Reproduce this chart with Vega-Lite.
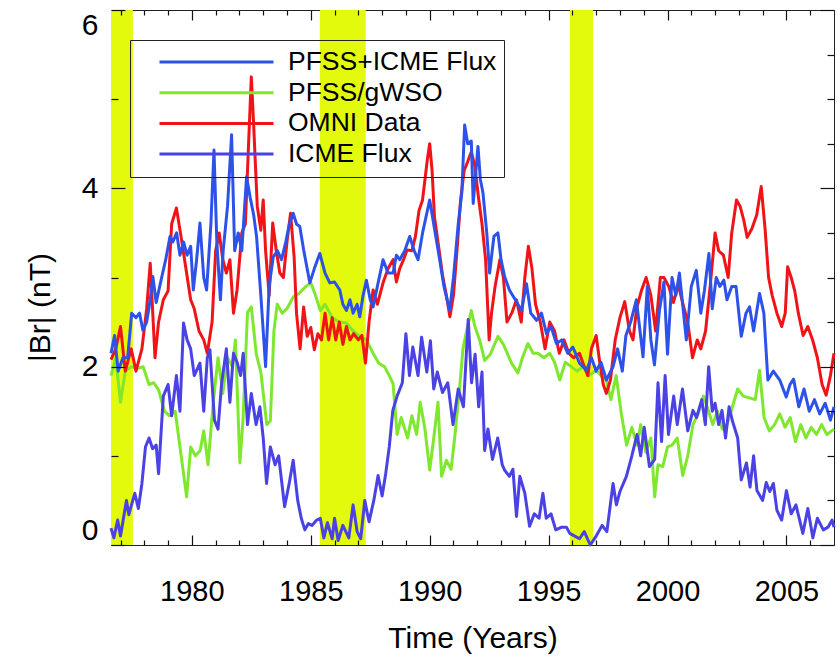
{
"$schema": "https://vega.github.io/schema/vega-lite/v6.json",
"autosize": {"type": "none"},
"width": 723,
"height": 535,
"padding": {"left": 111, "top": 10, "right": 3, "bottom": 112},
"config": {
  "view": {"stroke": "#222", "strokeWidth": 1},
  "font": "Liberation Sans",
  "axis": {"labelFont": "Liberation Sans", "titleFont": "Liberation Sans", "labelColor": "black", "titleColor": "black", "tickColor": "#111", "titleFontWeight": "normal", "grid": false, "domain": false, "tickWidth": 1.2, "zindex": 2}
},
"datasets": {
  "bands": [
    {"start": 1976.6, "end": 1977.52},
    {"start": 1985.38, "end": 1987.31},
    {"start": 1995.9, "end": 1996.87}
  ],
  "series": [
{"series":"PFSS/gWSO","year":1976.6,"value":1.9},
{"series":"PFSS/gWSO","year":1976.8,"value":2.1},
{"series":"PFSS/gWSO","year":1977.0,"value":1.6},
{"series":"PFSS/gWSO","year":1977.2,"value":1.95},
{"series":"PFSS/gWSO","year":1977.45,"value":2.0},
{"series":"PFSS/gWSO","year":1977.7,"value":1.98},
{"series":"PFSS/gWSO","year":1977.95,"value":2.0},
{"series":"PFSS/gWSO","year":1978.2,"value":1.8},
{"series":"PFSS/gWSO","year":1978.4,"value":1.82},
{"series":"PFSS/gWSO","year":1978.6,"value":1.74},
{"series":"PFSS/gWSO","year":1978.85,"value":1.5},
{"series":"PFSS/gWSO","year":1979.05,"value":1.45},
{"series":"PFSS/gWSO","year":1979.3,"value":1.5},
{"series":"PFSS/gWSO","year":1979.55,"value":1.0},
{"series":"PFSS/gWSO","year":1979.78,"value":0.54},
{"series":"PFSS/gWSO","year":1979.95,"value":1.1},
{"series":"PFSS/gWSO","year":1980.15,"value":1.0},
{"series":"PFSS/gWSO","year":1980.35,"value":1.06},
{"series":"PFSS/gWSO","year":1980.5,"value":1.28},
{"series":"PFSS/gWSO","year":1980.68,"value":0.9},
{"series":"PFSS/gWSO","year":1980.9,"value":1.6},
{"series":"PFSS/gWSO","year":1981.1,"value":2.1},
{"series":"PFSS/gWSO","year":1981.3,"value":1.7},
{"series":"PFSS/gWSO","year":1981.5,"value":2.1},
{"series":"PFSS/gWSO","year":1981.7,"value":2.0},
{"series":"PFSS/gWSO","year":1981.83,"value":2.3},
{"series":"PFSS/gWSO","year":1982.02,"value":0.92},
{"series":"PFSS/gWSO","year":1982.15,"value":1.4},
{"series":"PFSS/gWSO","year":1982.34,"value":2.61},
{"series":"PFSS/gWSO","year":1982.5,"value":2.67},
{"series":"PFSS/gWSO","year":1982.71,"value":2.14},
{"series":"PFSS/gWSO","year":1982.9,"value":1.94},
{"series":"PFSS/gWSO","year":1983.15,"value":1.35},
{"series":"PFSS/gWSO","year":1983.3,"value":1.39},
{"series":"PFSS/gWSO","year":1983.45,"value":2.4},
{"series":"PFSS/gWSO","year":1983.59,"value":2.7},
{"series":"PFSS/gWSO","year":1983.8,"value":2.6},
{"series":"PFSS/gWSO","year":1984.0,"value":2.65},
{"series":"PFSS/gWSO","year":1984.26,"value":2.78},
{"series":"PFSS/gWSO","year":1984.5,"value":2.82},
{"series":"PFSS/gWSO","year":1984.8,"value":2.9},
{"series":"PFSS/gWSO","year":1985.0,"value":2.94},
{"series":"PFSS/gWSO","year":1985.2,"value":2.8},
{"series":"PFSS/gWSO","year":1985.4,"value":2.63},
{"series":"PFSS/gWSO","year":1985.6,"value":2.7},
{"series":"PFSS/gWSO","year":1985.9,"value":2.55},
{"series":"PFSS/gWSO","year":1986.2,"value":2.5},
{"series":"PFSS/gWSO","year":1986.5,"value":2.49},
{"series":"PFSS/gWSO","year":1986.78,"value":2.4},
{"series":"PFSS/gWSO","year":1987.06,"value":2.34},
{"series":"PFSS/gWSO","year":1987.34,"value":2.3},
{"series":"PFSS/gWSO","year":1987.62,"value":2.15},
{"series":"PFSS/gWSO","year":1987.85,"value":2.04},
{"series":"PFSS/gWSO","year":1988.1,"value":2.0},
{"series":"PFSS/gWSO","year":1988.3,"value":1.9},
{"series":"PFSS/gWSO","year":1988.46,"value":1.81},
{"series":"PFSS/gWSO","year":1988.63,"value":1.24},
{"series":"PFSS/gWSO","year":1988.8,"value":1.43},
{"series":"PFSS/gWSO","year":1989.07,"value":1.2},
{"series":"PFSS/gWSO","year":1989.25,"value":1.45},
{"series":"PFSS/gWSO","year":1989.45,"value":1.24},
{"series":"PFSS/gWSO","year":1989.6,"value":1.6},
{"series":"PFSS/gWSO","year":1989.8,"value":1.3},
{"series":"PFSS/gWSO","year":1990.0,"value":0.84},
{"series":"PFSS/gWSO","year":1990.17,"value":1.2},
{"series":"PFSS/gWSO","year":1990.35,"value":1.6},
{"series":"PFSS/gWSO","year":1990.5,"value":0.77},
{"series":"PFSS/gWSO","year":1990.7,"value":0.95},
{"series":"PFSS/gWSO","year":1990.9,"value":0.85},
{"series":"PFSS/gWSO","year":1991.05,"value":1.2},
{"series":"PFSS/gWSO","year":1991.25,"value":1.74},
{"series":"PFSS/gWSO","year":1991.4,"value":2.2},
{"series":"PFSS/gWSO","year":1991.55,"value":2.4},
{"series":"PFSS/gWSO","year":1991.75,"value":2.63},
{"series":"PFSS/gWSO","year":1991.9,"value":2.45},
{"series":"PFSS/gWSO","year":1992.1,"value":2.3},
{"series":"PFSS/gWSO","year":1992.31,"value":2.07},
{"series":"PFSS/gWSO","year":1992.55,"value":2.14},
{"series":"PFSS/gWSO","year":1992.87,"value":2.34},
{"series":"PFSS/gWSO","year":1993.1,"value":2.25},
{"series":"PFSS/gWSO","year":1993.44,"value":2.04},
{"series":"PFSS/gWSO","year":1993.71,"value":1.93},
{"series":"PFSS/gWSO","year":1993.9,"value":2.1},
{"series":"PFSS/gWSO","year":1994.13,"value":2.26},
{"series":"PFSS/gWSO","year":1994.35,"value":2.15},
{"series":"PFSS/gWSO","year":1994.55,"value":2.15},
{"series":"PFSS/gWSO","year":1994.8,"value":2.1},
{"series":"PFSS/gWSO","year":1995.05,"value":2.15},
{"series":"PFSS/gWSO","year":1995.25,"value":2.05},
{"series":"PFSS/gWSO","year":1995.47,"value":1.85},
{"series":"PFSS/gWSO","year":1995.7,"value":2.05},
{"series":"PFSS/gWSO","year":1995.95,"value":2.0},
{"series":"PFSS/gWSO","year":1996.2,"value":1.95},
{"series":"PFSS/gWSO","year":1996.45,"value":2.0},
{"series":"PFSS/gWSO","year":1996.7,"value":1.9},
{"series":"PFSS/gWSO","year":1997.0,"value":1.96},
{"series":"PFSS/gWSO","year":1997.2,"value":1.9},
{"series":"PFSS/gWSO","year":1997.43,"value":1.85},
{"series":"PFSS/gWSO","year":1997.62,"value":1.63},
{"series":"PFSS/gWSO","year":1997.84,"value":1.9},
{"series":"PFSS/gWSO","year":1998.06,"value":1.47},
{"series":"PFSS/gWSO","year":1998.28,"value":1.12},
{"series":"PFSS/gWSO","year":1998.5,"value":1.32},
{"series":"PFSS/gWSO","year":1998.72,"value":1.12},
{"series":"PFSS/gWSO","year":1998.87,"value":1.35},
{"series":"PFSS/gWSO","year":1999.09,"value":1.04},
{"series":"PFSS/gWSO","year":1999.3,"value":1.2},
{"series":"PFSS/gWSO","year":1999.46,"value":0.54},
{"series":"PFSS/gWSO","year":1999.6,"value":0.9},
{"series":"PFSS/gWSO","year":1999.8,"value":0.88},
{"series":"PFSS/gWSO","year":2000.0,"value":1.1},
{"series":"PFSS/gWSO","year":2000.19,"value":1.12},
{"series":"PFSS/gWSO","year":2000.41,"value":1.2},
{"series":"PFSS/gWSO","year":2000.64,"value":0.78},
{"series":"PFSS/gWSO","year":2000.85,"value":1.0},
{"series":"PFSS/gWSO","year":2001.07,"value":1.35},
{"series":"PFSS/gWSO","year":2001.29,"value":1.47},
{"series":"PFSS/gWSO","year":2001.51,"value":1.67},
{"series":"PFSS/gWSO","year":2001.73,"value":1.5},
{"series":"PFSS/gWSO","year":2001.9,"value":1.35},
{"series":"PFSS/gWSO","year":2002.1,"value":1.5},
{"series":"PFSS/gWSO","year":2002.3,"value":1.3},
{"series":"PFSS/gWSO","year":2002.5,"value":1.35},
{"series":"PFSS/gWSO","year":2002.73,"value":1.55},
{"series":"PFSS/gWSO","year":2002.95,"value":1.75},
{"series":"PFSS/gWSO","year":2003.18,"value":1.67},
{"series":"PFSS/gWSO","year":2003.45,"value":1.65},
{"series":"PFSS/gWSO","year":2003.69,"value":1.63},
{"series":"PFSS/gWSO","year":2003.87,"value":1.96},
{"series":"PFSS/gWSO","year":2004.06,"value":1.43},
{"series":"PFSS/gWSO","year":2004.28,"value":1.28},
{"series":"PFSS/gWSO","year":2004.5,"value":1.35},
{"series":"PFSS/gWSO","year":2004.72,"value":1.47},
{"series":"PFSS/gWSO","year":2004.94,"value":1.32},
{"series":"PFSS/gWSO","year":2005.16,"value":1.43},
{"series":"PFSS/gWSO","year":2005.38,"value":1.16},
{"series":"PFSS/gWSO","year":2005.6,"value":1.35},
{"series":"PFSS/gWSO","year":2005.82,"value":1.2},
{"series":"PFSS/gWSO","year":2006.04,"value":1.32},
{"series":"PFSS/gWSO","year":2006.26,"value":1.24},
{"series":"PFSS/gWSO","year":2006.48,"value":1.35},
{"series":"PFSS/gWSO","year":2006.7,"value":1.24},
{"series":"PFSS/gWSO","year":2007.0,"value":1.3},
{"series":"OMNI Data","year":1976.6,"value":2.08},
{"series":"OMNI Data","year":1976.8,"value":2.2},
{"series":"OMNI Data","year":1977.0,"value":2.45},
{"series":"OMNI Data","year":1977.2,"value":1.95},
{"series":"OMNI Data","year":1977.45,"value":2.2},
{"series":"OMNI Data","year":1977.65,"value":1.95},
{"series":"OMNI Data","year":1977.9,"value":2.2},
{"series":"OMNI Data","year":1978.1,"value":2.65},
{"series":"OMNI Data","year":1978.25,"value":3.16},
{"series":"OMNI Data","year":1978.45,"value":2.1},
{"series":"OMNI Data","year":1978.6,"value":2.5},
{"series":"OMNI Data","year":1978.8,"value":2.75},
{"series":"OMNI Data","year":1979.0,"value":2.85},
{"series":"OMNI Data","year":1979.15,"value":3.6},
{"series":"OMNI Data","year":1979.35,"value":3.78},
{"series":"OMNI Data","year":1979.55,"value":3.45},
{"series":"OMNI Data","year":1979.75,"value":3.1},
{"series":"OMNI Data","year":1979.95,"value":2.75},
{"series":"OMNI Data","year":1980.1,"value":2.65},
{"series":"OMNI Data","year":1980.3,"value":2.4},
{"series":"OMNI Data","year":1980.5,"value":2.3},
{"series":"OMNI Data","year":1980.65,"value":2.15},
{"series":"OMNI Data","year":1980.85,"value":2.5},
{"series":"OMNI Data","year":1981.0,"value":3.3},
{"series":"OMNI Data","year":1981.15,"value":3.5},
{"series":"OMNI Data","year":1981.3,"value":3.2},
{"series":"OMNI Data","year":1981.45,"value":3.05},
{"series":"OMNI Data","year":1981.6,"value":3.2},
{"series":"OMNI Data","year":1981.75,"value":2.6},
{"series":"OMNI Data","year":1981.9,"value":2.86},
{"series":"OMNI Data","year":1982.1,"value":3.5},
{"series":"OMNI Data","year":1982.25,"value":3.6},
{"series":"OMNI Data","year":1982.4,"value":4.6},
{"series":"OMNI Data","year":1982.5,"value":5.25},
{"series":"OMNI Data","year":1982.6,"value":4.7},
{"series":"OMNI Data","year":1982.75,"value":3.8},
{"series":"OMNI Data","year":1982.9,"value":3.53},
{"series":"OMNI Data","year":1983.0,"value":3.87},
{"series":"OMNI Data","year":1983.1,"value":3.3},
{"series":"OMNI Data","year":1983.25,"value":2.8},
{"series":"OMNI Data","year":1983.4,"value":3.61},
{"series":"OMNI Data","year":1983.55,"value":3.3},
{"series":"OMNI Data","year":1983.7,"value":3.05},
{"series":"OMNI Data","year":1983.85,"value":3.0},
{"series":"OMNI Data","year":1984.0,"value":3.4},
{"series":"OMNI Data","year":1984.15,"value":3.72},
{"series":"OMNI Data","year":1984.3,"value":3.23},
{"series":"OMNI Data","year":1984.4,"value":2.6},
{"series":"OMNI Data","year":1984.55,"value":2.2},
{"series":"OMNI Data","year":1984.7,"value":2.67},
{"series":"OMNI Data","year":1984.85,"value":2.34},
{"series":"OMNI Data","year":1985.0,"value":2.44},
{"series":"OMNI Data","year":1985.15,"value":2.19},
{"series":"OMNI Data","year":1985.3,"value":2.37},
{"series":"OMNI Data","year":1985.45,"value":2.3},
{"series":"OMNI Data","year":1985.6,"value":2.6},
{"series":"OMNI Data","year":1985.75,"value":2.3},
{"series":"OMNI Data","year":1985.9,"value":2.55},
{"series":"OMNI Data","year":1986.05,"value":2.3},
{"series":"OMNI Data","year":1986.2,"value":2.5},
{"series":"OMNI Data","year":1986.35,"value":2.25},
{"series":"OMNI Data","year":1986.5,"value":2.45},
{"series":"OMNI Data","year":1986.65,"value":2.3},
{"series":"OMNI Data","year":1986.8,"value":2.37},
{"series":"OMNI Data","year":1987.0,"value":2.3},
{"series":"OMNI Data","year":1987.15,"value":2.35},
{"series":"OMNI Data","year":1987.3,"value":2.04},
{"series":"OMNI Data","year":1987.45,"value":2.5},
{"series":"OMNI Data","year":1987.62,"value":2.86},
{"series":"OMNI Data","year":1987.8,"value":2.7},
{"series":"OMNI Data","year":1988.04,"value":2.94},
{"series":"OMNI Data","year":1988.25,"value":3.1},
{"series":"OMNI Data","year":1988.46,"value":3.2},
{"series":"OMNI Data","year":1988.6,"value":2.95},
{"series":"OMNI Data","year":1988.74,"value":3.1},
{"series":"OMNI Data","year":1988.9,"value":3.2},
{"series":"OMNI Data","year":1989.05,"value":3.31},
{"series":"OMNI Data","year":1989.25,"value":3.3},
{"series":"OMNI Data","year":1989.4,"value":3.46},
{"series":"OMNI Data","year":1989.55,"value":3.75},
{"series":"OMNI Data","year":1989.7,"value":3.87},
{"series":"OMNI Data","year":1989.9,"value":4.32},
{"series":"OMNI Data","year":1990.0,"value":4.5},
{"series":"OMNI Data","year":1990.1,"value":4.2},
{"series":"OMNI Data","year":1990.2,"value":3.68},
{"series":"OMNI Data","year":1990.4,"value":3.3},
{"series":"OMNI Data","year":1990.55,"value":3.01},
{"series":"OMNI Data","year":1990.7,"value":2.8},
{"series":"OMNI Data","year":1990.85,"value":2.56},
{"series":"OMNI Data","year":1991.0,"value":2.8},
{"series":"OMNI Data","year":1991.15,"value":3.31},
{"series":"OMNI Data","year":1991.3,"value":3.87},
{"series":"OMNI Data","year":1991.45,"value":4.2},
{"series":"OMNI Data","year":1991.6,"value":4.3},
{"series":"OMNI Data","year":1991.75,"value":4.41},
{"series":"OMNI Data","year":1991.9,"value":4.25},
{"series":"OMNI Data","year":1992.05,"value":3.9},
{"series":"OMNI Data","year":1992.2,"value":3.6},
{"series":"OMNI Data","year":1992.35,"value":3.2},
{"series":"OMNI Data","year":1992.5,"value":2.3},
{"series":"OMNI Data","year":1992.6,"value":2.6},
{"series":"OMNI Data","year":1992.75,"value":2.9},
{"series":"OMNI Data","year":1992.95,"value":3.2},
{"series":"OMNI Data","year":1993.1,"value":3.0},
{"series":"OMNI Data","year":1993.25,"value":2.5},
{"series":"OMNI Data","year":1993.45,"value":2.6},
{"series":"OMNI Data","year":1993.65,"value":2.75},
{"series":"OMNI Data","year":1993.85,"value":2.5},
{"series":"OMNI Data","year":1994.0,"value":3.0},
{"series":"OMNI Data","year":1994.15,"value":3.35},
{"series":"OMNI Data","year":1994.3,"value":3.1},
{"series":"OMNI Data","year":1994.45,"value":2.7},
{"series":"OMNI Data","year":1994.65,"value":2.5},
{"series":"OMNI Data","year":1994.85,"value":2.2},
{"series":"OMNI Data","year":1995.05,"value":2.5},
{"series":"OMNI Data","year":1995.25,"value":2.4},
{"series":"OMNI Data","year":1995.45,"value":2.15},
{"series":"OMNI Data","year":1995.65,"value":2.3},
{"series":"OMNI Data","year":1995.85,"value":2.15},
{"series":"OMNI Data","year":1996.05,"value":2.1},
{"series":"OMNI Data","year":1996.3,"value":2.15},
{"series":"OMNI Data","year":1996.5,"value":2.0},
{"series":"OMNI Data","year":1996.65,"value":1.9},
{"series":"OMNI Data","year":1996.8,"value":2.2},
{"series":"OMNI Data","year":1997.0,"value":2.35},
{"series":"OMNI Data","year":1997.15,"value":2.05},
{"series":"OMNI Data","year":1997.3,"value":1.8},
{"series":"OMNI Data","year":1997.43,"value":1.7},
{"series":"OMNI Data","year":1997.6,"value":1.85},
{"series":"OMNI Data","year":1997.8,"value":2.3},
{"series":"OMNI Data","year":1998.0,"value":2.55},
{"series":"OMNI Data","year":1998.2,"value":2.73},
{"series":"OMNI Data","year":1998.4,"value":2.4},
{"series":"OMNI Data","year":1998.55,"value":2.3},
{"series":"OMNI Data","year":1998.7,"value":2.65},
{"series":"OMNI Data","year":1998.9,"value":2.85},
{"series":"OMNI Data","year":1999.1,"value":3.0},
{"series":"OMNI Data","year":1999.3,"value":2.8},
{"series":"OMNI Data","year":1999.5,"value":2.4},
{"series":"OMNI Data","year":1999.7,"value":3.0},
{"series":"OMNI Data","year":1999.85,"value":3.0},
{"series":"OMNI Data","year":2000.05,"value":2.9},
{"series":"OMNI Data","year":2000.25,"value":2.72},
{"series":"OMNI Data","year":2000.45,"value":2.92},
{"series":"OMNI Data","year":2000.65,"value":2.7},
{"series":"OMNI Data","year":2000.85,"value":2.5},
{"series":"OMNI Data","year":2001.05,"value":2.1},
{"series":"OMNI Data","year":2001.25,"value":2.3},
{"series":"OMNI Data","year":2001.4,"value":2.2},
{"series":"OMNI Data","year":2001.6,"value":2.4},
{"series":"OMNI Data","year":2001.8,"value":2.92},
{"series":"OMNI Data","year":2002.0,"value":3.5},
{"series":"OMNI Data","year":2002.15,"value":3.3},
{"series":"OMNI Data","year":2002.35,"value":3.25},
{"series":"OMNI Data","year":2002.55,"value":3.0},
{"series":"OMNI Data","year":2002.7,"value":3.5},
{"series":"OMNI Data","year":2002.9,"value":3.87},
{"series":"OMNI Data","year":2003.05,"value":3.8},
{"series":"OMNI Data","year":2003.2,"value":3.65},
{"series":"OMNI Data","year":2003.35,"value":3.45},
{"series":"OMNI Data","year":2003.55,"value":3.55},
{"series":"OMNI Data","year":2003.75,"value":3.7},
{"series":"OMNI Data","year":2003.94,"value":4.02},
{"series":"OMNI Data","year":2004.1,"value":3.55},
{"series":"OMNI Data","year":2004.25,"value":3.0},
{"series":"OMNI Data","year":2004.4,"value":2.8},
{"series":"OMNI Data","year":2004.6,"value":2.6},
{"series":"OMNI Data","year":2004.8,"value":2.45},
{"series":"OMNI Data","year":2004.95,"value":2.6},
{"series":"OMNI Data","year":2005.05,"value":3.12},
{"series":"OMNI Data","year":2005.2,"value":3.0},
{"series":"OMNI Data","year":2005.35,"value":2.85},
{"series":"OMNI Data","year":2005.5,"value":2.6},
{"series":"OMNI Data","year":2005.7,"value":2.35},
{"series":"OMNI Data","year":2005.9,"value":2.45},
{"series":"OMNI Data","year":2006.1,"value":2.3},
{"series":"OMNI Data","year":2006.3,"value":2.1},
{"series":"OMNI Data","year":2006.5,"value":1.8},
{"series":"OMNI Data","year":2006.67,"value":1.68},
{"series":"OMNI Data","year":2006.85,"value":1.9},
{"series":"OMNI Data","year":2007.0,"value":2.15},
{"series":"ICME Flux","year":1976.6,"value":0.19},
{"series":"ICME Flux","year":1976.72,"value":0.08},
{"series":"ICME Flux","year":1976.88,"value":0.28},
{"series":"ICME Flux","year":1977.0,"value":0.1},
{"series":"ICME Flux","year":1977.25,"value":0.5},
{"series":"ICME Flux","year":1977.35,"value":0.34},
{"series":"ICME Flux","year":1977.6,"value":0.58},
{"series":"ICME Flux","year":1977.75,"value":0.41},
{"series":"ICME Flux","year":1977.9,"value":0.69},
{"series":"ICME Flux","year":1978.05,"value":1.1},
{"series":"ICME Flux","year":1978.2,"value":1.2},
{"series":"ICME Flux","year":1978.35,"value":1.08},
{"series":"ICME Flux","year":1978.5,"value":1.12},
{"series":"ICME Flux","year":1978.6,"value":0.8},
{"series":"ICME Flux","year":1978.8,"value":1.67},
{"series":"ICME Flux","year":1979.0,"value":1.8},
{"series":"ICME Flux","year":1979.15,"value":1.45},
{"series":"ICME Flux","year":1979.35,"value":1.9},
{"series":"ICME Flux","year":1979.5,"value":1.5},
{"series":"ICME Flux","year":1979.65,"value":2.49},
{"series":"ICME Flux","year":1979.8,"value":2.3},
{"series":"ICME Flux","year":1979.95,"value":2.2},
{"series":"ICME Flux","year":1980.1,"value":1.9},
{"series":"ICME Flux","year":1980.34,"value":2.04},
{"series":"ICME Flux","year":1980.5,"value":1.5},
{"series":"ICME Flux","year":1980.65,"value":2.1},
{"series":"ICME Flux","year":1980.76,"value":2.19},
{"series":"ICME Flux","year":1980.95,"value":1.4},
{"series":"ICME Flux","year":1981.1,"value":1.3},
{"series":"ICME Flux","year":1981.25,"value":1.81},
{"series":"ICME Flux","year":1981.45,"value":2.2},
{"series":"ICME Flux","year":1981.6,"value":1.6},
{"series":"ICME Flux","year":1981.75,"value":2.15},
{"series":"ICME Flux","year":1981.9,"value":2.05},
{"series":"ICME Flux","year":1982.05,"value":1.9},
{"series":"ICME Flux","year":1982.16,"value":2.15},
{"series":"ICME Flux","year":1982.34,"value":1.35},
{"series":"ICME Flux","year":1982.5,"value":1.7},
{"series":"ICME Flux","year":1982.7,"value":1.35},
{"series":"ICME Flux","year":1982.86,"value":1.55},
{"series":"ICME Flux","year":1983.0,"value":1.2},
{"series":"ICME Flux","year":1983.14,"value":0.69},
{"series":"ICME Flux","year":1983.3,"value":1.1},
{"series":"ICME Flux","year":1983.5,"value":0.9},
{"series":"ICME Flux","year":1983.65,"value":1.0},
{"series":"ICME Flux","year":1983.9,"value":0.43},
{"series":"ICME Flux","year":1984.1,"value":0.7},
{"series":"ICME Flux","year":1984.26,"value":0.95},
{"series":"ICME Flux","year":1984.45,"value":0.5},
{"series":"ICME Flux","year":1984.6,"value":0.3},
{"series":"ICME Flux","year":1984.75,"value":0.17},
{"series":"ICME Flux","year":1984.9,"value":0.24},
{"series":"ICME Flux","year":1985.05,"value":0.22},
{"series":"ICME Flux","year":1985.25,"value":0.28},
{"series":"ICME Flux","year":1985.4,"value":0.3},
{"series":"ICME Flux","year":1985.55,"value":0.08},
{"series":"ICME Flux","year":1985.7,"value":0.25},
{"series":"ICME Flux","year":1985.9,"value":0.07},
{"series":"ICME Flux","year":1986.0,"value":0.3},
{"series":"ICME Flux","year":1986.15,"value":0.05},
{"series":"ICME Flux","year":1986.35,"value":0.22},
{"series":"ICME Flux","year":1986.6,"value":0.08},
{"series":"ICME Flux","year":1986.78,"value":0.45},
{"series":"ICME Flux","year":1986.95,"value":0.15},
{"series":"ICME Flux","year":1987.1,"value":0.07},
{"series":"ICME Flux","year":1987.27,"value":0.5},
{"series":"ICME Flux","year":1987.45,"value":0.26},
{"series":"ICME Flux","year":1987.65,"value":0.5},
{"series":"ICME Flux","year":1987.83,"value":0.78},
{"series":"ICME Flux","year":1988.0,"value":0.55},
{"series":"ICME Flux","year":1988.15,"value":0.8},
{"series":"ICME Flux","year":1988.3,"value":1.1},
{"series":"ICME Flux","year":1988.45,"value":1.51},
{"series":"ICME Flux","year":1988.63,"value":1.67},
{"series":"ICME Flux","year":1988.85,"value":1.82},
{"series":"ICME Flux","year":1989.0,"value":2.37},
{"series":"ICME Flux","year":1989.15,"value":1.9},
{"series":"ICME Flux","year":1989.29,"value":2.22},
{"series":"ICME Flux","year":1989.51,"value":1.9},
{"series":"ICME Flux","year":1989.66,"value":2.33},
{"series":"ICME Flux","year":1989.88,"value":1.94},
{"series":"ICME Flux","year":1990.03,"value":2.29},
{"series":"ICME Flux","year":1990.17,"value":1.75},
{"series":"ICME Flux","year":1990.32,"value":1.94},
{"series":"ICME Flux","year":1990.54,"value":1.71},
{"series":"ICME Flux","year":1990.76,"value":1.82},
{"series":"ICME Flux","year":1990.98,"value":1.35},
{"series":"ICME Flux","year":1991.2,"value":1.75},
{"series":"ICME Flux","year":1991.42,"value":1.55},
{"series":"ICME Flux","year":1991.62,"value":2.53},
{"series":"ICME Flux","year":1991.76,"value":1.82},
{"series":"ICME Flux","year":1991.91,"value":2.14},
{"series":"ICME Flux","year":1992.06,"value":1.55},
{"series":"ICME Flux","year":1992.2,"value":1.94},
{"series":"ICME Flux","year":1992.31,"value":1.06},
{"series":"ICME Flux","year":1992.45,"value":1.3},
{"series":"ICME Flux","year":1992.64,"value":0.96},
{"series":"ICME Flux","year":1992.86,"value":1.2},
{"series":"ICME Flux","year":1993.05,"value":0.9},
{"series":"ICME Flux","year":1993.15,"value":0.84},
{"series":"ICME Flux","year":1993.35,"value":0.77},
{"series":"ICME Flux","year":1993.5,"value":0.85},
{"series":"ICME Flux","year":1993.65,"value":0.32},
{"series":"ICME Flux","year":1993.79,"value":0.77},
{"series":"ICME Flux","year":1994.0,"value":0.58},
{"series":"ICME Flux","year":1994.2,"value":0.21},
{"series":"ICME Flux","year":1994.4,"value":0.35},
{"series":"ICME Flux","year":1994.6,"value":0.3},
{"series":"ICME Flux","year":1994.76,"value":0.58},
{"series":"ICME Flux","year":1994.9,"value":0.3},
{"series":"ICME Flux","year":1995.1,"value":0.35},
{"series":"ICME Flux","year":1995.3,"value":0.17},
{"series":"ICME Flux","year":1995.55,"value":0.2},
{"series":"ICME Flux","year":1995.75,"value":0.2},
{"series":"ICME Flux","year":1995.89,"value":0.13},
{"series":"ICME Flux","year":1996.1,"value":0.1},
{"series":"ICME Flux","year":1996.3,"value":0.07},
{"series":"ICME Flux","year":1996.5,"value":0.15},
{"series":"ICME Flux","year":1996.75,"value":0.0},
{"series":"ICME Flux","year":1997.0,"value":0.1},
{"series":"ICME Flux","year":1997.25,"value":0.22},
{"series":"ICME Flux","year":1997.45,"value":0.15},
{"series":"ICME Flux","year":1997.71,"value":0.69},
{"series":"ICME Flux","year":1997.85,"value":0.45},
{"series":"ICME Flux","year":1998.0,"value":0.6},
{"series":"ICME Flux","year":1998.27,"value":0.77},
{"series":"ICME Flux","year":1998.5,"value":1.0},
{"series":"ICME Flux","year":1998.72,"value":1.24},
{"series":"ICME Flux","year":1998.87,"value":1.0},
{"series":"ICME Flux","year":1999.02,"value":1.32},
{"series":"ICME Flux","year":1999.24,"value":0.88},
{"series":"ICME Flux","year":1999.46,"value":0.96},
{"series":"ICME Flux","year":1999.6,"value":1.82},
{"series":"ICME Flux","year":1999.75,"value":1.16},
{"series":"ICME Flux","year":1999.9,"value":1.9},
{"series":"ICME Flux","year":2000.04,"value":1.24},
{"series":"ICME Flux","year":2000.26,"value":1.67},
{"series":"ICME Flux","year":2000.41,"value":1.35},
{"series":"ICME Flux","year":2000.63,"value":1.75},
{"series":"ICME Flux","year":2000.85,"value":1.28},
{"series":"ICME Flux","year":2001.07,"value":1.51},
{"series":"ICME Flux","year":2001.22,"value":1.43},
{"series":"ICME Flux","year":2001.44,"value":1.63},
{"series":"ICME Flux","year":2001.59,"value":1.35},
{"series":"ICME Flux","year":2001.73,"value":2.0},
{"series":"ICME Flux","year":2001.88,"value":1.5},
{"series":"ICME Flux","year":2002.0,"value":1.59},
{"series":"ICME Flux","year":2002.15,"value":1.35},
{"series":"ICME Flux","year":2002.29,"value":1.51},
{"series":"ICME Flux","year":2002.44,"value":1.2},
{"series":"ICME Flux","year":2002.59,"value":1.55},
{"series":"ICME Flux","year":2002.73,"value":1.39},
{"series":"ICME Flux","year":2002.95,"value":1.2},
{"series":"ICME Flux","year":2003.1,"value":0.73},
{"series":"ICME Flux","year":2003.32,"value":0.92},
{"series":"ICME Flux","year":2003.47,"value":0.65},
{"series":"ICME Flux","year":2003.62,"value":1.0},
{"series":"ICME Flux","year":2003.76,"value":0.61},
{"series":"ICME Flux","year":2004.0,"value":0.5},
{"series":"ICME Flux","year":2004.15,"value":0.7},
{"series":"ICME Flux","year":2004.3,"value":0.6},
{"series":"ICME Flux","year":2004.45,"value":0.69},
{"series":"ICME Flux","year":2004.6,"value":0.39},
{"series":"ICME Flux","year":2004.8,"value":0.28},
{"series":"ICME Flux","year":2005.0,"value":0.61},
{"series":"ICME Flux","year":2005.2,"value":0.35},
{"series":"ICME Flux","year":2005.4,"value":0.45},
{"series":"ICME Flux","year":2005.69,"value":0.13},
{"series":"ICME Flux","year":2005.9,"value":0.41},
{"series":"ICME Flux","year":2006.11,"value":0.08},
{"series":"ICME Flux","year":2006.3,"value":0.3},
{"series":"ICME Flux","year":2006.55,"value":0.17},
{"series":"ICME Flux","year":2006.75,"value":0.2},
{"series":"ICME Flux","year":2006.92,"value":0.28},
{"series":"ICME Flux","year":2007.0,"value":0.2},
{"series":"PFSS+ICME Flux","year":1976.6,"value":2.15},
{"series":"PFSS+ICME Flux","year":1976.75,"value":2.35},
{"series":"PFSS+ICME Flux","year":1976.9,"value":1.95},
{"series":"PFSS+ICME Flux","year":1977.1,"value":2.1},
{"series":"PFSS+ICME Flux","year":1977.3,"value":2.1},
{"series":"PFSS+ICME Flux","year":1977.47,"value":2.6},
{"series":"PFSS+ICME Flux","year":1977.65,"value":2.55},
{"series":"PFSS+ICME Flux","year":1977.8,"value":2.6},
{"series":"PFSS+ICME Flux","year":1977.94,"value":2.41},
{"series":"PFSS+ICME Flux","year":1978.1,"value":2.5},
{"series":"PFSS+ICME Flux","year":1978.25,"value":2.75},
{"series":"PFSS+ICME Flux","year":1978.36,"value":3.01},
{"series":"PFSS+ICME Flux","year":1978.5,"value":2.72},
{"series":"PFSS+ICME Flux","year":1978.73,"value":3.0},
{"series":"PFSS+ICME Flux","year":1978.9,"value":3.2},
{"series":"PFSS+ICME Flux","year":1979.08,"value":3.46},
{"series":"PFSS+ICME Flux","year":1979.2,"value":3.4},
{"series":"PFSS+ICME Flux","year":1979.36,"value":3.5},
{"series":"PFSS+ICME Flux","year":1979.5,"value":3.25},
{"series":"PFSS+ICME Flux","year":1979.65,"value":3.4},
{"series":"PFSS+ICME Flux","year":1979.8,"value":3.25},
{"series":"PFSS+ICME Flux","year":1979.95,"value":3.35},
{"series":"PFSS+ICME Flux","year":1980.06,"value":2.86},
{"series":"PFSS+ICME Flux","year":1980.2,"value":3.2},
{"series":"PFSS+ICME Flux","year":1980.34,"value":3.61},
{"series":"PFSS+ICME Flux","year":1980.5,"value":3.0},
{"series":"PFSS+ICME Flux","year":1980.62,"value":2.86},
{"series":"PFSS+ICME Flux","year":1980.8,"value":3.6},
{"series":"PFSS+ICME Flux","year":1980.93,"value":4.43},
{"series":"PFSS+ICME Flux","year":1981.05,"value":3.4},
{"series":"PFSS+ICME Flux","year":1981.2,"value":2.75},
{"series":"PFSS+ICME Flux","year":1981.32,"value":3.31},
{"series":"PFSS+ICME Flux","year":1981.5,"value":3.8},
{"series":"PFSS+ICME Flux","year":1981.67,"value":4.6},
{"series":"PFSS+ICME Flux","year":1981.8,"value":3.3},
{"series":"PFSS+ICME Flux","year":1981.95,"value":3.5},
{"series":"PFSS+ICME Flux","year":1982.1,"value":3.3},
{"series":"PFSS+ICME Flux","year":1982.3,"value":4.13},
{"series":"PFSS+ICME Flux","year":1982.45,"value":3.9},
{"series":"PFSS+ICME Flux","year":1982.6,"value":3.7},
{"series":"PFSS+ICME Flux","year":1982.72,"value":3.46},
{"series":"PFSS+ICME Flux","year":1982.9,"value":2.8},
{"series":"PFSS+ICME Flux","year":1983.1,"value":2.0},
{"series":"PFSS+ICME Flux","year":1983.25,"value":2.9},
{"series":"PFSS+ICME Flux","year":1983.42,"value":3.23},
{"series":"PFSS+ICME Flux","year":1983.6,"value":3.3},
{"series":"PFSS+ICME Flux","year":1983.77,"value":3.2},
{"series":"PFSS+ICME Flux","year":1983.95,"value":3.4},
{"series":"PFSS+ICME Flux","year":1984.1,"value":3.6},
{"series":"PFSS+ICME Flux","year":1984.26,"value":3.72},
{"series":"PFSS+ICME Flux","year":1984.4,"value":3.6},
{"series":"PFSS+ICME Flux","year":1984.54,"value":3.57},
{"series":"PFSS+ICME Flux","year":1984.7,"value":3.31},
{"series":"PFSS+ICME Flux","year":1984.96,"value":2.94},
{"series":"PFSS+ICME Flux","year":1985.15,"value":3.1},
{"series":"PFSS+ICME Flux","year":1985.38,"value":3.27},
{"series":"PFSS+ICME Flux","year":1985.6,"value":3.05},
{"series":"PFSS+ICME Flux","year":1985.8,"value":2.94},
{"series":"PFSS+ICME Flux","year":1986.0,"value":2.95},
{"series":"PFSS+ICME Flux","year":1986.22,"value":2.86},
{"series":"PFSS+ICME Flux","year":1986.35,"value":2.7},
{"series":"PFSS+ICME Flux","year":1986.5,"value":2.63},
{"series":"PFSS+ICME Flux","year":1986.65,"value":2.75},
{"series":"PFSS+ICME Flux","year":1986.78,"value":2.6},
{"series":"PFSS+ICME Flux","year":1986.95,"value":2.7},
{"series":"PFSS+ICME Flux","year":1987.06,"value":2.56},
{"series":"PFSS+ICME Flux","year":1987.2,"value":2.8},
{"series":"PFSS+ICME Flux","year":1987.34,"value":2.97},
{"series":"PFSS+ICME Flux","year":1987.5,"value":2.75},
{"series":"PFSS+ICME Flux","year":1987.62,"value":2.67},
{"series":"PFSS+ICME Flux","year":1987.8,"value":2.9},
{"series":"PFSS+ICME Flux","year":1988.04,"value":3.2},
{"series":"PFSS+ICME Flux","year":1988.25,"value":3.05},
{"series":"PFSS+ICME Flux","year":1988.46,"value":3.05},
{"series":"PFSS+ICME Flux","year":1988.6,"value":3.25},
{"series":"PFSS+ICME Flux","year":1988.74,"value":3.2},
{"series":"PFSS+ICME Flux","year":1988.95,"value":3.3},
{"series":"PFSS+ICME Flux","year":1989.16,"value":3.46},
{"series":"PFSS+ICME Flux","year":1989.35,"value":3.3},
{"series":"PFSS+ICME Flux","year":1989.51,"value":3.2},
{"series":"PFSS+ICME Flux","year":1989.7,"value":3.5},
{"series":"PFSS+ICME Flux","year":1990.0,"value":3.87},
{"series":"PFSS+ICME Flux","year":1990.2,"value":3.55},
{"series":"PFSS+ICME Flux","year":1990.42,"value":3.2},
{"series":"PFSS+ICME Flux","year":1990.6,"value":2.9},
{"series":"PFSS+ICME Flux","year":1990.84,"value":2.63},
{"series":"PFSS+ICME Flux","year":1991.0,"value":3.0},
{"series":"PFSS+ICME Flux","year":1991.2,"value":3.6},
{"series":"PFSS+ICME Flux","year":1991.35,"value":3.95},
{"series":"PFSS+ICME Flux","year":1991.47,"value":4.71},
{"series":"PFSS+ICME Flux","year":1991.6,"value":4.5},
{"series":"PFSS+ICME Flux","year":1991.75,"value":4.53},
{"series":"PFSS+ICME Flux","year":1991.83,"value":3.83},
{"series":"PFSS+ICME Flux","year":1992.03,"value":4.47},
{"series":"PFSS+ICME Flux","year":1992.13,"value":4.1},
{"series":"PFSS+ICME Flux","year":1992.24,"value":3.95},
{"series":"PFSS+ICME Flux","year":1992.4,"value":3.5},
{"series":"PFSS+ICME Flux","year":1992.52,"value":3.05},
{"series":"PFSS+ICME Flux","year":1992.7,"value":3.46},
{"series":"PFSS+ICME Flux","year":1992.87,"value":3.5},
{"series":"PFSS+ICME Flux","year":1993.0,"value":3.2},
{"series":"PFSS+ICME Flux","year":1993.15,"value":3.01},
{"series":"PFSS+ICME Flux","year":1993.35,"value":2.86},
{"series":"PFSS+ICME Flux","year":1993.6,"value":2.75},
{"series":"PFSS+ICME Flux","year":1993.86,"value":2.63},
{"series":"PFSS+ICME Flux","year":1994.07,"value":2.93},
{"series":"PFSS+ICME Flux","year":1994.25,"value":2.6},
{"series":"PFSS+ICME Flux","year":1994.49,"value":2.52},
{"series":"PFSS+ICME Flux","year":1994.7,"value":2.6},
{"series":"PFSS+ICME Flux","year":1994.91,"value":2.37},
{"series":"PFSS+ICME Flux","year":1995.1,"value":2.45},
{"series":"PFSS+ICME Flux","year":1995.33,"value":2.26},
{"series":"PFSS+ICME Flux","year":1995.55,"value":2.3},
{"series":"PFSS+ICME Flux","year":1995.81,"value":2.15},
{"series":"PFSS+ICME Flux","year":1996.02,"value":2.22},
{"series":"PFSS+ICME Flux","year":1996.3,"value":2.04},
{"series":"PFSS+ICME Flux","year":1996.59,"value":1.96},
{"series":"PFSS+ICME Flux","year":1996.8,"value":2.1},
{"series":"PFSS+ICME Flux","year":1997.0,"value":1.95},
{"series":"PFSS+ICME Flux","year":1997.2,"value":2.05},
{"series":"PFSS+ICME Flux","year":1997.43,"value":1.85},
{"series":"PFSS+ICME Flux","year":1997.71,"value":2.0},
{"series":"PFSS+ICME Flux","year":1997.9,"value":2.2},
{"series":"PFSS+ICME Flux","year":1998.1,"value":1.95},
{"series":"PFSS+ICME Flux","year":1998.25,"value":2.35},
{"series":"PFSS+ICME Flux","year":1998.45,"value":2.5},
{"series":"PFSS+ICME Flux","year":1998.69,"value":2.75},
{"series":"PFSS+ICME Flux","year":1998.97,"value":2.11},
{"series":"PFSS+ICME Flux","year":1999.15,"value":2.9},
{"series":"PFSS+ICME Flux","year":1999.3,"value":2.3},
{"series":"PFSS+ICME Flux","year":1999.45,"value":2.02},
{"series":"PFSS+ICME Flux","year":1999.66,"value":2.63},
{"series":"PFSS+ICME Flux","year":1999.85,"value":2.95},
{"series":"PFSS+ICME Flux","year":2000.0,"value":2.14},
{"series":"PFSS+ICME Flux","year":2000.19,"value":3.0},
{"series":"PFSS+ICME Flux","year":2000.35,"value":2.8},
{"series":"PFSS+ICME Flux","year":2000.5,"value":3.05},
{"series":"PFSS+ICME Flux","year":2000.79,"value":2.3},
{"series":"PFSS+ICME Flux","year":2001.0,"value":2.9},
{"series":"PFSS+ICME Flux","year":2001.21,"value":3.08},
{"series":"PFSS+ICME Flux","year":2001.4,"value":2.6},
{"series":"PFSS+ICME Flux","year":2001.55,"value":2.85},
{"series":"PFSS+ICME Flux","year":2001.74,"value":3.27},
{"series":"PFSS+ICME Flux","year":2001.88,"value":2.65},
{"series":"PFSS+ICME Flux","year":2002.05,"value":3.0},
{"series":"PFSS+ICME Flux","year":2002.2,"value":2.9},
{"series":"PFSS+ICME Flux","year":2002.37,"value":2.97},
{"series":"PFSS+ICME Flux","year":2002.5,"value":2.75},
{"series":"PFSS+ICME Flux","year":2002.7,"value":2.9},
{"series":"PFSS+ICME Flux","year":2002.88,"value":2.9},
{"series":"PFSS+ICME Flux","year":2003.1,"value":2.34},
{"series":"PFSS+ICME Flux","year":2003.3,"value":2.6},
{"series":"PFSS+ICME Flux","year":2003.45,"value":2.67},
{"series":"PFSS+ICME Flux","year":2003.62,"value":2.4},
{"series":"PFSS+ICME Flux","year":2003.87,"value":2.82},
{"series":"PFSS+ICME Flux","year":2004.05,"value":2.6},
{"series":"PFSS+ICME Flux","year":2004.22,"value":1.85},
{"series":"PFSS+ICME Flux","year":2004.45,"value":1.95},
{"series":"PFSS+ICME Flux","year":2004.72,"value":1.85},
{"series":"PFSS+ICME Flux","year":2004.99,"value":1.66},
{"series":"PFSS+ICME Flux","year":2005.15,"value":1.8},
{"series":"PFSS+ICME Flux","year":2005.3,"value":1.86},
{"series":"PFSS+ICME Flux","year":2005.52,"value":1.55},
{"series":"PFSS+ICME Flux","year":2005.74,"value":1.75},
{"series":"PFSS+ICME Flux","year":2005.96,"value":1.5},
{"series":"PFSS+ICME Flux","year":2006.18,"value":1.63},
{"series":"PFSS+ICME Flux","year":2006.4,"value":1.47},
{"series":"PFSS+ICME Flux","year":2006.63,"value":1.59},
{"series":"PFSS+ICME Flux","year":2006.85,"value":1.4},
{"series":"PFSS+ICME Flux","year":2007.0,"value":1.55}
  ]
},
"resolve": {"axis": {"x": "independent", "y": "independent"}},
"layer": [
  {
    "data": {"name": "bands"},
    "mark": {"type": "rect", "color": "#e3fa0c", "opacity": 1},
    "encoding": {
      "x": {"field": "start", "type": "quantitative",
        "scale": {"domain": [1976.6, 2007.0], "nice": false, "zero": false},
        "axis": {"orient": "bottom", "title": "Time (Years)", "format": "d", "zindex": 2,
          "values": [1977,1978,1979,1980,1981,1982,1983,1984,1985,1986,1987,1988,1989,1990,1991,1992,1993,1994,1995,1996,1997,1998,1999,2000,2001,2002,2003,2004,2005,2006],
          "labelExpr": "datum.value % 5 === 0 ? datum.label : ''",
          "tickSize": {"condition": {"test": "datum.value % 5 === 0", "value": -10}, "value": -5},
          "labelFontSize": 29, "labelPadding": 42, "labelFlush": false,
          "titleFontSize": 30, "titlePadding": 17}},
      "x2": {"field": "end"}
    }
  },
  {
    "data": {"name": "series"},
    "transform": [{"filter": "datum.series === 'PFSS/gWSO' || datum.series === 'OMNI Data'"}],
    "mark": {"type": "line", "strokeWidth": 3, "strokeJoin": "round"},
    "encoding": {
      "x": {"field": "year", "type": "quantitative",
        "axis": {"orient": "top", "title": null, "labels": false, "zindex": 2,
          "values": [1977,1978,1979,1980,1981,1982,1983,1984,1985,1986,1987,1988,1989,1990,1991,1992,1993,1994,1995,1996,1997,1998,1999,2000,2001,2002,2003,2004,2005,2006],
          "tickSize": {"condition": {"test": "datum.value % 5 === 0", "value": -10}, "value": -5}}},
      "y": {"field": "value", "type": "quantitative",
        "scale": {"domain": [0, 6], "nice": false, "zero": false},
        "axis": {"orient": "left", "title": "|Br| (nT)", "format": "d", "zindex": 2,
          "values": [0,0.5,1,1.5,2,2.5,3,3.5,4,4.5,5,5.5,6],
          "labelExpr": "datum.value % 2 === 0 ? datum.label : ''",
          "tickSize": {"condition": {"test": "datum.value % 2 === 0", "value": -14}, "value": -7},
          "labelFontSize": 30, "labelPadding": 27, "labelFlush": true,
          "titleFontSize": 30, "titlePadding": 26, "titleY": 297}},
      "color": {"field": "series", "type": "nominal",
        "scale": {"domain": ["PFSS+ICME Flux", "PFSS/gWSO", "OMNI Data", "ICME Flux"], "range": ["#2d52ea", "#7fe82e", "#f01418", "#4a42e4"]},
        "legend": {"orient": "none", "legendX": 19, "legendY": 30, "title": null,
          "symbolType": "stroke", "symbolSize": 12996, "symbolStrokeWidth": 3,
          "labelFontSize": 26.5, "labelFont": "Liberation Sans", "labelColor": "black", "labelOffset": 13, "labelLimit": 400,
          "clipHeight": 30, "rowPadding": 0.7, "padding": 7, "symbolOffset": 21,
          "strokeColor": "#222"}}
    }
  },
  {
    "data": {"name": "series"},
    "transform": [{"filter": "datum.series === 'ICME Flux' || datum.series === 'PFSS+ICME Flux'"}],
    "mark": {"type": "line", "strokeWidth": 3, "strokeJoin": "round"},
    "encoding": {
      "x": {"field": "year", "type": "quantitative", "axis": null},
      "y": {"field": "value", "type": "quantitative",
        "axis": {"orient": "right", "title": null, "labels": false, "zindex": 2,
          "values": [0,0.5,1,1.5,2,2.5,3,3.5,4,4.5,5,5.5,6],
          "tickSize": {"condition": {"test": "datum.value % 2 === 0", "value": -14}, "value": -7}}},
      "color": {"field": "series", "type": "nominal"}
    }
  }
]
}
